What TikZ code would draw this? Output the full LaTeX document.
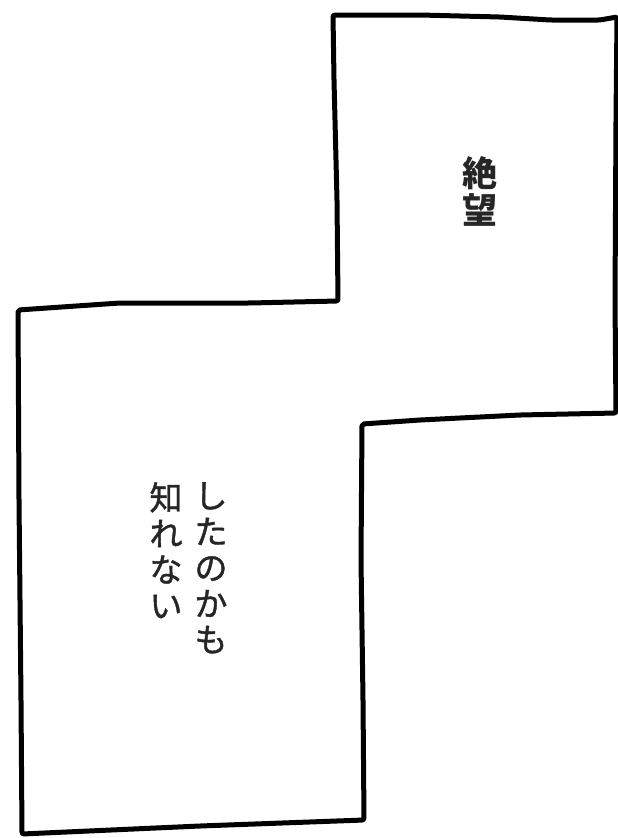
\documentclass[tikz,border=0pt]{standalone}
\usepackage{fontspec}
\newfontfamily\jp{Noto Sans CJK JP}
\newfontfamily\jpmed[FakeBold=1.2]{Noto Sans CJK JP}
\begin{document}
\begin{tikzpicture}[x=1pt,y=-1pt,
  outline/.style={line width=5pt,line join=round,line cap=round,rounded corners=2pt},
  vtext/.style={font=\jpmed\fontsize{33}{36}\selectfont,align=center,inner sep=0pt,anchor=north,text=black!85}]
\useasboundingbox (0,0) rectangle (618,838);
\fill[white] (0,0) rectangle (618,838);
\draw[outline] (333,15) -- (420,15) -- (500,17) -- (550,20) -- (600,20) -- (617,17)
  -- (616,120) -- (615,300) -- (616,413)
  -- (520,415) -- (420,420) -- (362,424)
  -- (361,560) -- (363,700) -- (364,820)
  -- (200,826) -- (22,834)
  -- (21,700) -- (19,500) -- (18,310)
  -- (120,303) -- (250,303) -- (338,301)
  -- (337,200) -- (334,80) -- cycle;
\node[vtext,font=\jp\bfseries\fontsize{35}{37}\selectfont] (zetsubo) at (480,156) {絶\\望};
\node[vtext] (col1) at (211,482) {し\\た\\の\\か\\も};
\node[vtext] (col2) at (166,482) {知\\れ\\な\\い};
\end{tikzpicture}
\end{document}
